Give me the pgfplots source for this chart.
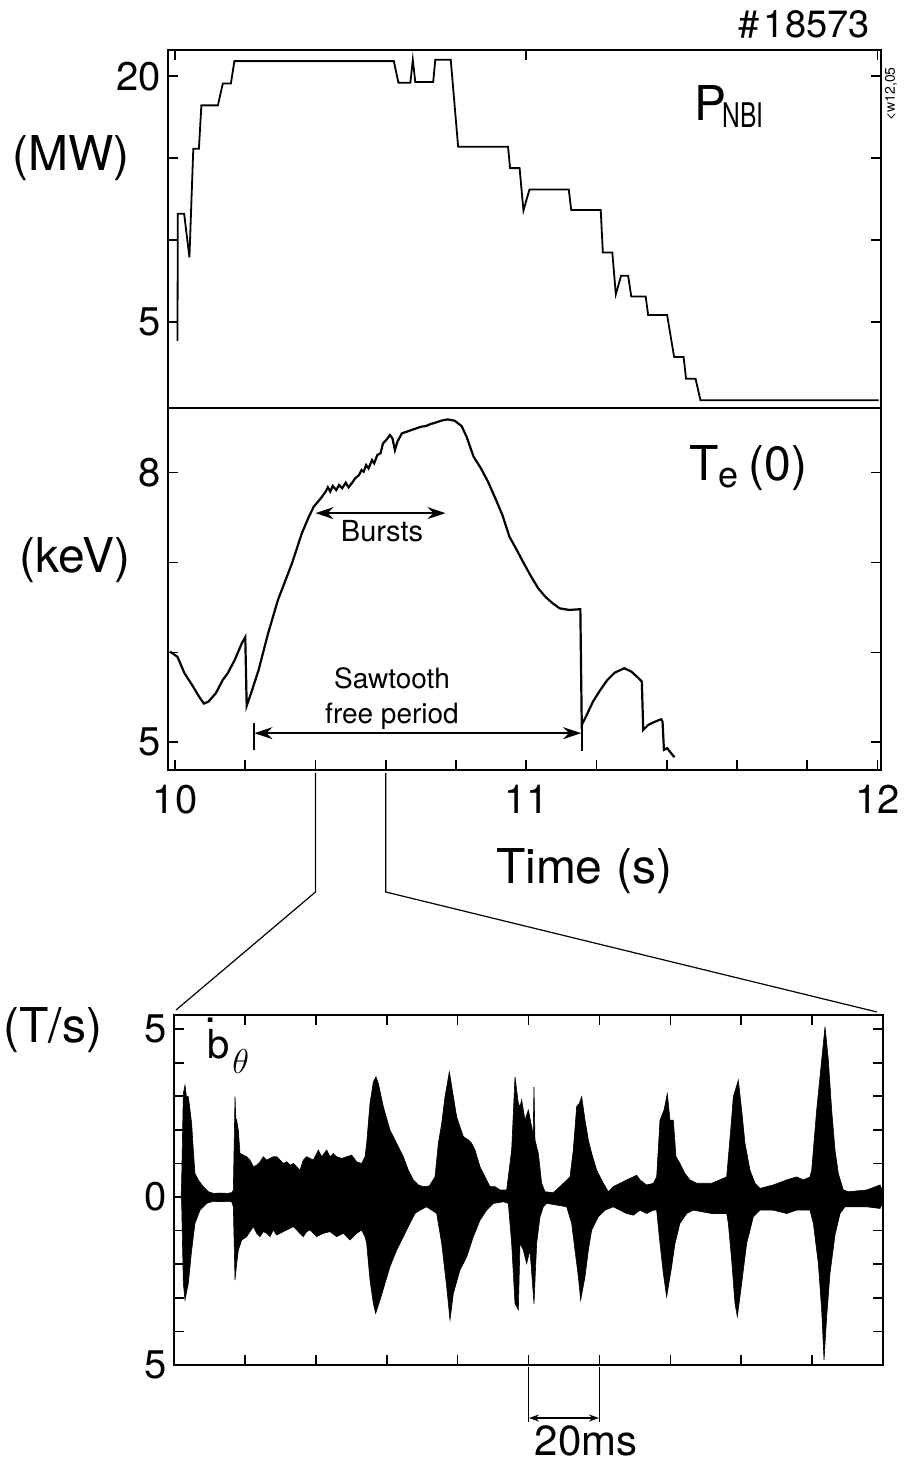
\documentclass[border=0pt]{standalone}
\usepackage{fontspec}
\setmainfont{TeX Gyre Heros}
\usepackage{graphicx}
\usepackage{pgfplots}
\pgfplotsset{compat=1.18}
\usepgfplotslibrary{fillbetween}
\usetikzlibrary{arrows.meta}
\newcommand{\fs}[1]{\fontsize{#1}{#1}\selectfont}

\begin{document}
\begin{tikzpicture}
\pgfplotsset{
  every axis/.append style={
    scale only axis,
    axis line style={line width=1pt},
    every tick/.style={black, line width=0.8pt},
    tick align=inside,
    major tick length=5pt,
    tick label style={font=\fs{20pt}},
    /pgf/number format/assume math mode=true,
  }
}
\begin{scope}[x=0.5pt,y=-0.5pt]
\useasboundingbox (0,0) rectangle (899,1465);
\end{scope}

% ---------------- top panel: P_NBI
\begin{axis}[at={(84pt,-25pt)}, anchor=north west, width=356.5pt, height=179pt,
  xmin=9.98, xmax=12.01, ymin=-0.25, ymax=21.6,
  xtick={10,11,12}, xticklabels={}, xtick pos=right,
  ytick={5,10,15,20}, yticklabels={5,{},{},20}]
\addplot[black, line width=0.9pt] coordinates {
(10.007,3.84) (10.008,11.6) (10.026,11.6) (10.041,8.94) (10.052,15.57) (10.068,15.57)
(10.075,18.22) (10.122,18.22) (10.136,19.55) (10.159,19.55) (10.169,20.92) (10.623,20.92)
(10.636,19.6) (10.670,19.6) (10.677,21.0) (10.684,19.65) (10.735,19.65) (10.741,21.0)
(10.785,21.0) (10.806,15.7) (10.948,15.7) (10.954,14.39) (10.981,14.39) (10.992,11.8)
(11.009,13.08) (11.121,13.08) (11.128,11.84) (11.212,11.84) (11.218,9.24) (11.245,9.24)
(11.255,6.69) (11.270,7.82) (11.290,7.82) (11.299,6.55) (11.340,6.55) (11.347,5.43)
(11.401,5.43) (11.421,2.86) (11.448,2.86) (11.455,1.53) (11.482,1.53) (11.496,0.22)
(12.003,0.22)
};
\end{axis}

% ---------------- middle panel: Te(0)
\begin{axis}[at={(84pt,-204pt)}, anchor=north west, width=356.5pt, height=181pt,
  xmin=9.98, xmax=12.01, ymin=4.69, ymax=8.72,
  xtick={10,10.2,10.4,10.6,10.8,11,11.2,11.4,11.6,11.8,12},
  xticklabels={10,{},{},{},{},11,{},{},{},{},12}, xtick pos=left,
  xticklabel style={yshift=-4pt},
  ytick={5,6,7,8}, yticklabels={5,{},{},8}]
\addplot[black, line width=1.1pt] coordinates {
(9.986,6.008) (10.007,5.95) (10.027,5.767) (10.048,5.64) (10.068,5.51) (10.082,5.43)
(10.095,5.45) (10.116,5.544) (10.136,5.693) (10.150,5.767) (10.170,5.915) (10.190,6.10)
(10.200,6.168) (10.204,5.404) (10.218,5.563) (10.238,5.804) (10.265,6.212) (10.293,6.583)
(10.313,6.787) (10.333,6.991) (10.361,7.325) (10.381,7.51) (10.395,7.622) (10.415,7.714)
(10.429,7.789) (10.435,7.837) (10.442,7.789) (10.449,7.852) (10.459,7.807) (10.467,7.863)
(10.476,7.826) (10.486,7.889) (10.494,7.837) (10.503,7.881) (10.513,7.937) (10.524,7.974)
(10.531,8.030) (10.537,8.011) (10.544,8.085) (10.551,8.048) (10.561,8.141) (10.567,8.104)
(10.576,8.197) (10.585,8.215) (10.592,8.326) (10.601,8.363) (10.612,8.419) (10.619,8.382)
(10.626,8.252) (10.633,8.345) (10.646,8.438) (10.660,8.456) (10.673,8.475) (10.687,8.493)
(10.701,8.512) (10.714,8.519) (10.728,8.542) (10.741,8.556) (10.758,8.579) (10.776,8.593)
(10.796,8.579) (10.816,8.519) (10.830,8.401) (10.850,8.178) (10.871,8.048) (10.891,7.900)
(10.912,7.714) (10.932,7.529) (10.952,7.288) (10.973,7.139) (10.993,6.991) (11.014,6.843)
(11.034,6.713) (11.054,6.620) (11.075,6.546) (11.095,6.490) (11.122,6.472) (11.150,6.479)
(11.154,6.479) (11.158,5.192) (11.170,5.285) (11.190,5.452) (11.211,5.582) (11.231,5.693)
(11.252,5.774) (11.279,5.823) (11.299,5.786) (11.320,5.711) (11.329,5.674) (11.333,5.136)
(11.347,5.192) (11.367,5.229) (11.384,5.255) (11.388,5.229) (11.392,4.914) (11.401,4.933)
(11.411,4.884) (11.422,4.832)
};
\draw[line width=0.8pt, {Stealth[length=9pt,width=6pt]}-{Stealth[length=9pt,width=6pt]}]
  (axis cs:10.40,7.55) -- (axis cs:10.77,7.55);
\draw[line width=0.8pt] (axis cs:10.224,5.21) -- (axis cs:10.224,4.91);
\draw[line width=0.8pt] (axis cs:11.158,5.19) -- (axis cs:11.158,4.90);
\draw[line width=0.8pt, {Stealth[length=9pt,width=6pt]}-{Stealth[length=9pt,width=6pt]}]
  (axis cs:10.226,5.10) -- (axis cs:11.156,5.10);
\end{axis}

% ---------------- bottom panel: b-dot theta
\begin{axis}[at={(87pt,-507.5pt)}, anchor=north west, width=354.5pt, height=175pt,
  xmin=0, xmax=200, ymin=-5, ymax=5.42,
  xtick={20,40,60,80,100,120,140,160,180}, xticklabels={},
  ytick={-5,-4,-3,-2,-1,0,1,2,3,4,5},
  yticklabels={5,{},{},{},{},0,{},{},{},{},5}]
\addplot[name path=U, black, line width=0.3pt] coordinates {
(2.0,0) (2.16,0.5) (2.63,3.08) (3.10,3.33) (3.5,3.0) (4.04,2.99) (4.98,2.19) (5.45,1.40)
(5.92,0.70) (6.86,0.51) (8.27,0.31) (9.69,0.16) (11.10,0.11) (13,0.12) (15,0.11) (16.27,0.13)
(16.74,0.21) (17.21,2.99) (17.5,2.2) (17.68,2.29) (18.15,1.99) (18.62,1.30) (19.56,1.25)
(20.50,1.20) (21.44,1.10) (22.38,0.90) (23.32,0.95) (24.26,1.05) (25.20,1.20) (26.14,1.10)
(27.08,1.15) (28.02,1.20) (28.96,1.20) (29.90,1.10) (30.84,1.00) (31.78,1.05) (32.72,0.95)
(33.66,1.00) (34.60,0.90) (35.54,0.80) (36.48,1.10) (37.42,1.20) (38.36,1.15) (39.30,1.10)
(40.71,1.40) (41.66,1.20) (43.07,1.40) (44.01,1.20) (44.95,1.30) (45.89,1.20) (47.30,1.15)
(48.71,1.20) (50.12,1.25) (51.53,1.05) (52.94,1.00) (53.88,1.20) (54.35,1.60) (55.29,2.79)
(56.23,3.43) (56.98,3.58) (57.64,3.38) (59.05,2.69) (60.93,1.99) (62.81,1.60) (64.69,1.20)
(66.10,0.80) (67.51,0.51) (68.92,0.36) (70.33,0.31) (72,0.33) (73.62,0.60) (74.57,1.60)
(75.51,2.19) (76.45,2.99) (77.67,3.73) (78.80,2.99) (79.74,2.39) (80.68,2.09) (81.62,1.80)
(83.03,1.70) (83.97,1.60) (84.91,1.40) (86.32,0.90) (87.73,0.60) (89.14,0.31) (90.55,0.31)
(91.96,0.21) (93.84,0.21) (95.25,1.40) (96.19,3.58) (97.13,2.79) (97.60,2.69) (98.07,2.89)
(99.01,2.29) (99.95,2.59) (100.89,2.09) (101.3,1.8) (101.55,3.28) (101.83,1.70) (102.77,1.30)
(103.71,0.41) (104.65,0.16) (107.00,0.13) (109.35,0.36) (111.70,0.60) (112.64,1.40)
(113.58,2.69) (114.34,2.79) (115.00,2.99) (115.94,2.29) (116.88,1.70) (117.82,1.30)
(119.23,0.80) (121.11,0.41) (122.52,0.16) (123.93,0.31) (125.81,0.41) (127.69,0.51)
(129.57,0.60) (130.51,0.65) (131.45,0.51) (133.33,0.36) (135.21,0.41) (136.15,0.60)
(137.09,2.29) (138.22,2.59) (139.16,3.08) (139.91,2.29) (140.85,2.29) (141.61,1.20)
(142.73,1.00) (144.14,0.70) (145.55,0.51) (147.44,0.41) (151.67,0.41) (155.90,0.60)
(157.03,1.99) (157.78,2.99) (159.19,3.48) (160.13,2.59) (161.07,1.60) (162.48,0.80)
(163.89,0.41) (165.30,0.26) (169.06,0.36) (172.82,0.51) (175.64,0.60) (177.53,0.51)
(179.40,0.60) (179.88,0.80) (181.29,2.59) (182.70,4.08) (183.64,5.07) (184.58,4.08)
(185.52,2.59) (186.46,1.40) (187.40,0.70) (188.81,0.21) (190.22,0.16) (195.39,0.21)
(199.15,0.36) (199.8,0.2)
};
\addplot[name path=L, black, line width=0.3pt] coordinates {
(2.0,0) (2.16,-0.19) (2.63,-2.57) (3.10,-3.07) (4.04,-2.57) (4.98,-1.58) (5.92,-0.78)
(7.33,-0.39) (9.21,-0.19) (10.63,-0.14) (13,-0.13) (16.27,-0.14) (16.74,-0.29) (17.21,-2.47)
(17.68,-1.98) (18.15,-1.58) (19.09,-1.28) (20.50,-1.18) (22.38,-0.88) (23.32,-1.08)
(24.26,-1.18) (25.20,-1.03) (26.14,-1.08) (27.08,-1.18) (28.02,-0.98) (28.96,-1.13)
(29.90,-1.08) (31.78,-0.98) (33.66,-0.88) (35.54,-1.08) (36.48,-1.18) (37.42,-1.03)
(38.36,-0.98) (40.24,-1.18) (42.13,-1.08) (44.01,-1.03) (45.89,-1.18) (47.77,-1.08)
(49.65,-1.28) (51.53,-1.08) (52.94,-0.98) (53.88,-1.18) (54.35,-1.38) (55.29,-2.47)
(56.23,-3.17) (56.89,-3.46) (58.11,-3.07) (59.52,-2.57) (60.93,-2.07) (62.81,-1.58)
(64.69,-1.18) (66.57,-0.78) (67.98,-0.49) (69.39,-0.39) (71.27,-0.29) (74.10,-0.49)
(75.51,-1.38) (76.92,-2.67) (77.86,-3.66) (78.80,-2.87) (80.68,-2.17) (82.56,-1.78)
(84.44,-1.18) (86.32,-0.69) (88.20,-0.39) (90.08,-0.19) (92.90,-0.14) (94.31,-0.19)
(95.25,-1.38) (96.19,-3.17) (97.13,-3.36) (97.60,-1.38) (98.54,-1.58) (99.48,-1.98)
(100.42,-1.58) (101.55,-3.17) (102.30,-1.38) (103.24,-0.59) (104.18,-0.29) (105.12,-0.19)
(107.00,-0.22) (110.76,-0.29) (112.17,-0.78) (113.11,-1.58) (114.06,-2.37) (114.71,-3.07)
(115.94,-2.37) (116.88,-1.58) (117.82,-0.98) (119.70,-0.59) (121.58,-0.39) (123.93,-0.29)
(125.81,-0.39) (127.69,-0.49) (129.57,-0.54) (131.45,-0.39) (133.33,-0.49) (135.21,-0.39)
(136.15,-0.39) (137.09,-1.38) (138.03,-2.27) (138.97,-2.97) (140.38,-2.07) (141.32,-1.38)
(142.73,-0.78) (144.61,-0.49) (146.50,-0.39) (151.67,-0.49) (155.90,-0.49) (156.37,-0.78)
(157.31,-1.88) (158.25,-3.17) (158.91,-3.56) (160.13,-2.57) (161.54,-1.38) (163.42,-0.59)
(165.30,-0.39) (169.06,-0.39) (172.82,-0.49) (175.64,-0.39) (179.40,-0.39) (180.35,-0.78)
(181.76,-1.98) (182.70,-3.36) (183.36,-4.85) (184.11,-3.56) (185.05,-2.27) (186.46,-1.13)
(187.87,-0.49) (189.28,-0.29) (195.39,-0.29) (199.15,-0.34) (199.8,-0.2)
};
\addplot[black] fill between[of=U and L];
\end{axis}

% ---------------- annotations in pixel units
\begin{scope}[x=0.5pt,y=-0.5pt]
\node[anchor=base east, inner sep=0] at (870,38) {\fs{19pt}\#\hspace{0.12em}18573};
\node[anchor=base west, inner sep=0] at (694,121) {\fs{24pt}P\kern-2pt\raisebox{-3.5pt}{\scalebox{0.72}[1]{\fs{17pt}NBI}}};
\node[anchor=base west, inner sep=0] at (689,480) {\fs{24pt}T\raisebox{-3.5pt}{\fs{18pt}e}\hspace{0.2em}(0)};
\node[inner sep=0] at (71,158) {\fs{24pt}(MW)};
\node[inner sep=0] at (75,560) {\fs{24pt}(keV)};
\node[inner sep=0] at (53,1030) {\fs{24pt}(T/s)};
\node[anchor=base, inner sep=0] at (584,883) {\fs{24pt}Time (s)};
\node[anchor=base, inner sep=0] at (382,541) {\fs{14.5pt}Bursts};
\node[anchor=base, inner sep=0] at (392,688) {\fs{14pt}Sawtooth};
\node[anchor=base, inner sep=0] at (392,723) {\fs{14pt}free period};
\node[anchor=base west, inner sep=0] at (207,1058) {\fs{20pt}b};
\node[anchor=base west, inner sep=0] at (232,1073) {\fs{17pt}$\theta$};
\node[inner sep=0] at (211,1020) {\fs{22pt}.};
\node[rotate=90, inner sep=0] at (891,94) {\fs{7pt}{<}w12,05};
\node[anchor=base, inner sep=0] at (586,1455) {\fs{21pt}20ms};
% zoom lines
\draw[line width=0.6pt] (315.5,773) -- (315.5,892) -- (176,1010);
\draw[line width=0.6pt] (385.8,773) -- (385.8,892) -- (877,1012);
% 20 ms bracket
\draw[line width=0.7pt] (528.5,1367) -- (528.5,1422);
\draw[line width=0.7pt] (599.4,1367) -- (599.4,1422);
\draw[line width=0.7pt, {Stealth[length=5pt,width=3.5pt]}-{Stealth[length=5pt,width=3.5pt]}]
  (529,1418) -- (599,1418);
\end{scope}
\end{tikzpicture}
\end{document}
